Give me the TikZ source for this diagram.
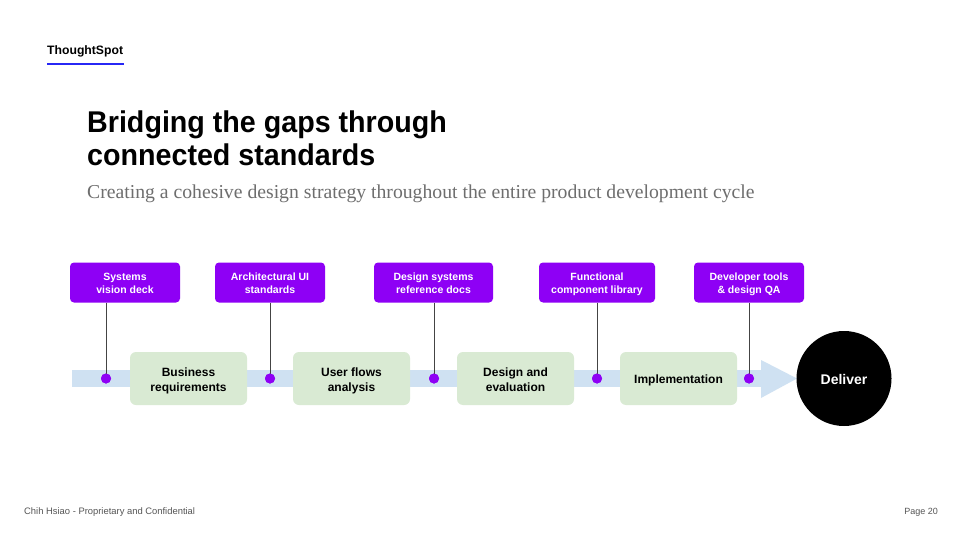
\documentclass[tikz,border=0pt]{standalone}
\usepackage{fontspec}
\setmainfont{Liberation Sans}
\newfontfamily\titlefont{Liberation Sans}[FakeStretch=0.955]
\newfontfamily\subfont{Liberation Serif}
\definecolor{purp}{HTML}{8E00F5}
\definecolor{greenbox}{HTML}{D9EAD3}
\definecolor{barblue}{HTML}{CFE1F2}
\definecolor{tsblue}{HTML}{2727F5}
\definecolor{subgray}{HTML}{6E6E6E}
\definecolor{footgray}{HTML}{555555}
\definecolor{stem}{HTML}{444444}
\newcommand{\gtop}{\rule{0pt}{15pt}}
\newcommand{\ptop}{\rule{0pt}{13pt}}
\tikzset{
  purpbox/.style={fill=purp, rounded corners=4pt, minimum width=110pt, minimum height=40pt, text=white, font=\fontsize{10.5}{13}\selectfont\bfseries, align=center, inner sep=0pt},
  stepbox/.style={fill=greenbox, rounded corners=6pt, minimum width=117pt, minimum height=53pt, font=\fontsize{12}{14.5}\selectfont\bfseries, align=center, inner sep=0pt},
  dot/.style={circle, fill=purp, minimum size=10pt, inner sep=0pt},
  stemline/.style={draw=stem, line width=1pt}
}
\begin{document}
\begin{tikzpicture}[x=1pt,y=-1pt]
\useasboundingbox (0,0) rectangle (960,540);
\fill[white] (0,0) rectangle (960,540);
% header
\node[anchor=base west, inner sep=0pt, font=\fontsize{12.2}{14}\selectfont\bfseries] (brand) at (47,55) {ThoughtSpot};
\draw[tsblue, line width=2.5pt] (47,64) -- (124,64);
% title
\node[anchor=base west, inner sep=0pt, align=left, font=\titlefont\fontsize{30}{33}\selectfont\bfseries] (title) at (87,166) {Bridging the gaps through\\connected standards};
\node[anchor=base west, inner sep=0pt, text=subgray, font=\subfont\fontsize{19.7}{22}\selectfont] (sub) at (87,198) {Creating a cohesive design strategy throughout the entire product development cycle};
% bar
\fill[barblue] (72,370) rectangle (761,387);
\fill[barblue] (761,360) -- (797,378.5) -- (761,398) -- cycle;
% green steps
\node[stepbox] (s1) at (188.5,378.5) {\gtop Business\\requirements\strut};
\node[stepbox] (s2) at (351.5,378.5) {\gtop User flows\\analysis\strut};
\node[stepbox] (s3) at (515.5,378.5) {\gtop Design and\\evaluation\strut};
\node[stepbox] (s4) at (678.5,378.5) {\gtop Implementation\strut};
% deliver
\node[circle, fill=black, minimum size=95pt, inner sep=0pt, text=white, font=\fontsize{14}{16}\selectfont\bfseries] (deliver) at (844,378.5) {\rule{0pt}{12pt}Deliver};
% dots
\node[dot] (d1) at (106,378.5) {};
\node[dot] (d2) at (270,378.5) {};
\node[dot] (d3) at (434,378.5) {};
\node[dot] (d4) at (597,378.5) {};
\node[dot] (d5) at (749,378.5) {};
% purple boxes
\node[purpbox] (p1) at (125,282.5) {\ptop Systems\\vision deck\strut};
\node[purpbox] (p2) at (270,282.5) {\ptop Architectural UI\\standards\strut};
\node[purpbox, minimum width=119pt] (p3) at (433.5,282.5) {\ptop Design systems\\reference docs\strut};
\node[purpbox, minimum width=116pt] (p4) at (597,282.5) {\ptop Functional\\component library\strut};
\node[purpbox] (p5) at (749,282.5) {\ptop Developer tools\\\& design QA\strut};
% stems
\draw[stemline] (p1.south -| d1) -- (d1.center);
\draw[stemline] (p2.south -| d2) -- (d2.center);
\draw[stemline] (p3.south -| d3) -- (d3.center);
\draw[stemline] (p4.south -| d4) -- (d4.center);
\draw[stemline] (p5.south -| d5) -- (d5.center);
\foreach \i in {1,...,5} {\node[dot] at (d\i) {};}
% footer
\node[anchor=base west, inner sep=0pt, text=footgray, font=\fontsize{9.4}{10}\selectfont] (foot) at (24,514) {Chih Hsiao - Proprietary and Confidential};
\node[anchor=base east, inner sep=0pt, text=footgray, font=\fontsize{9}{10}\selectfont] (page) at (938,514) {Page 20};
\end{tikzpicture}
\end{document}
